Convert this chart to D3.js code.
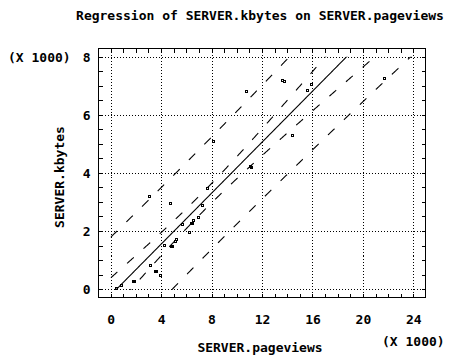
<!DOCTYPE html>
<html><head><meta charset="utf-8">
<script src="https://cdn.jsdelivr.net/npm/d3@7"></script>
<style>
html,body{margin:0;padding:0;background:#fff;}
svg{display:block;}
text{font-family:"DejaVu Sans Mono",monospace;font-weight:bold;font-size:13px;fill:#000;}
</style></head><body>
<svg id="c" width="456" height="361"></svg>
<script>
const title = "Regression of SERVER.kbytes on SERVER.pageviews";
const xLabel = "SERVER.pageviews";
const yLabel = "SERVER.kbytes";
const scaleNote = "(X 1000)";

// observations (thousands)
const pageviews = [0.39,0.86,1.80,1.88,3.06,3.14,3.53,3.60,3.93,4.25,4.72,4.80,4.87,5.08,5.17,5.65,6.23,6.39,6.46,6.55,6.95,7.26,7.65,8.13,10.75,11.03,11.11,13.56,13.77,14.40,15.60,15.91,21.71];
const kbytes    = [0.04,0.14,0.28,0.28,3.20,0.82,0.63,0.62,0.48,1.51,2.98,1.50,1.50,1.67,1.73,2.23,1.95,2.26,2.28,2.38,2.48,2.88,3.47,5.09,6.81,4.24,4.22,7.19,7.15,5.29,6.84,7.06,7.26];

const xTickValues = [0,4,8,12,16,20,24];
const xTickLabels = ["0","4","8","12","16","20","24"];
const yTickValues = [0,2,4,6,8];
const yTickLabels = ["0","2","4","6","8"];
const tCrit = 2.04; // 95%, n-2 df

const svg = d3.select("#c");
const x = d3.scaleLinear().domain([-1,25]).range([98,426]);
const y = d3.scaleLinear().domain([-0.28,8.28]).range([297.2,48.6]);
const L=98.5,R=425.5,T=48.5,B=297.5;

// title
svg.append("text").attr("x",260).attr("y",20).attr("text-anchor","middle").text(title);

// grid
const g = svg.append("g").attr("shape-rendering","crispEdges");
g.selectAll(".gx").data(xTickValues).join("line")
  .attr("x1",d=>Math.round(x(d))+0.5).attr("x2",d=>Math.round(x(d))+0.5)
  .attr("y1",T).attr("y2",B).attr("stroke","#000").attr("stroke-dasharray","1,2");
g.selectAll(".gy").data(yTickValues).join("line")
  .attr("y1",d=>Math.round(y(d))+0.5).attr("y2",d=>Math.round(y(d))+0.5)
  .attr("x1",L).attr("x2",R).attr("stroke","#000").attr("stroke-dasharray","1,2");

// frame
g.append("rect").attr("x",L).attr("y",T).attr("width",R-L).attr("height",B-T)
  .attr("fill","none").attr("stroke","#000");

// ticks (inward, all sides)
const xMinor = d3.range(0,24.01,1), yMinor = d3.range(0,8.01,0.5);
const tl=4;
xMinor.forEach(v=>{
  const px=Math.round(x(v))+0.5;
  g.append("line").attr("x1",px).attr("x2",px).attr("y1",B).attr("y2",B-tl).attr("stroke","#000");
  g.append("line").attr("x1",px).attr("x2",px).attr("y1",T).attr("y2",T+tl).attr("stroke","#000");
});
yMinor.forEach(v=>{
  const py=Math.round(y(v))+0.5;
  g.append("line").attr("y1",py).attr("y2",py).attr("x1",L).attr("x2",L+tl).attr("stroke","#000");
  g.append("line").attr("y1",py).attr("y2",py).attr("x1",R).attr("x2",R-tl).attr("stroke","#000");
});

// tick labels
svg.selectAll(".xl").data(xTickValues).join("text")
  .attr("x",d=>x(d)+0.5).attr("y",324).attr("text-anchor","middle").text((d,i)=>xTickLabels[i]);
svg.selectAll(".yl").data(yTickValues).join("text")
  .attr("x",90.5).attr("y",d=>y(d)+5).attr("text-anchor","end").text((d,i)=>yTickLabels[i]);

svg.append("text").attr("x",8).attr("y",62).text(scaleNote);
svg.append("text").attr("x",382).attr("y",346).text(scaleNote);
svg.append("text").attr("x",260).attr("y",352).attr("text-anchor","middle").text(xLabel);
svg.append("text").attr("transform","translate(64,177) rotate(-90)").attr("text-anchor","middle").text(yLabel);

// regression
const n = pageviews.length;
const xbar = d3.mean(pageviews), ybar = d3.mean(kbytes);
let Sxx=0,Sxy=0;
for(let i=0;i<n;i++){Sxx+=(pageviews[i]-xbar)**2;Sxy+=(pageviews[i]-xbar)*(kbytes[i]-ybar);}
const b=Sxy/Sxx, a=ybar-b*xbar;
let SSE=0;for(let i=0;i<n;i++){SSE+=(kbytes[i]-a-b*pageviews[i])**2;}
const s=Math.sqrt(SSE/(n-2));
const xs=d3.range(0,24.001,0.05);
const fit=v=>a+b*v;
const conf=v=>tCrit*s*Math.sqrt(1/n+(v-xbar)**2/Sxx);
const pred=v=>tCrit*s*Math.sqrt(1+1/n+(v-xbar)**2/Sxx);

svg.append("clipPath").attr("id","clip").append("rect")
  .attr("x",x(0)).attr("y",y(8)).attr("width",x(24)-x(0)+1).attr("height",y(0)-y(8)+1);
const rg = svg.append("g").attr("clip-path","url(#clip)");
const line = d3.line().x(d=>x(d[0])).y(d=>y(d[1]));
rg.append("path").attr("d",line(xs.map(v=>[v,fit(v)]))).attr("fill","none").attr("stroke","#000").attr("stroke-width",1.1);
[v=>fit(v)+conf(v),v=>fit(v)-conf(v),v=>fit(v)+pred(v),v=>fit(v)-pred(v)].forEach(f=>{
  rg.append("path").attr("d",line(xs.map(v=>[v,f(v)]))).attr("fill","none")
    .attr("stroke","#000").attr("stroke-width",1.1).attr("stroke-dasharray","9,13");
});

// points
svg.append("g").attr("shape-rendering","crispEdges").selectAll("rect").data(d3.range(n)).join("rect")
  .attr("x",i=>Math.round(x(pageviews[i]))-0.5).attr("y",i=>Math.round(y(kbytes[i]))-0.5)
  .attr("width",2).attr("height",2).attr("fill","none").attr("stroke","#000");
</script></body></html>
